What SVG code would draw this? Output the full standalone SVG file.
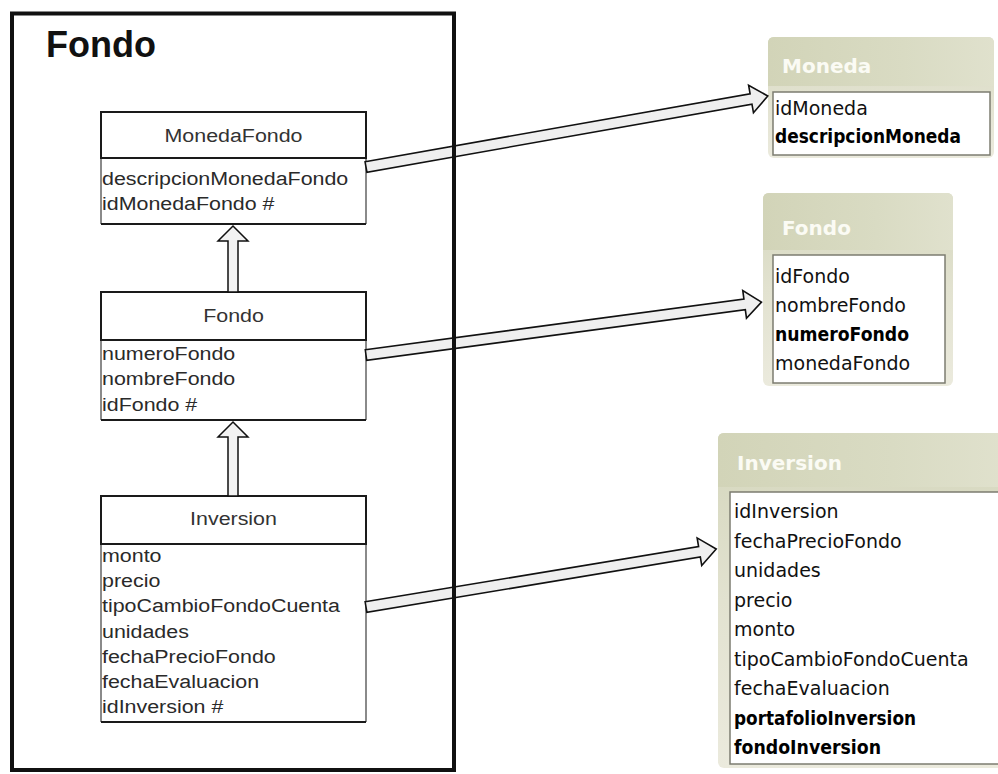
<svg xmlns="http://www.w3.org/2000/svg" width="998" height="774" viewBox="0 0 998 774">
  <defs>
    <style>
      .pkg { fill: none; stroke: #111; stroke-width: 4; }
      .pkg-title { font-family: "Liberation Sans", Arial, sans-serif; font-weight: bold; font-size: 36px; fill: #111; }
      .cls-head { fill: #fff; stroke: #1a1a1a; stroke-width: 2; }
      .cls-body { fill: #fff; stroke: none; }
      .cls-side { stroke: #8a8a8a; stroke-width: 2; fill: none; }
      .cls-bottom { stroke: #1a1a1a; stroke-width: 2; fill: none; }
      .cls-name { font-family: "Liberation Sans", Arial, sans-serif; font-size: 18px; fill: #333; text-anchor: middle; }
      .cls-attr { font-family: "Liberation Sans", Arial, sans-serif; font-size: 18px; fill: #2a2a2a; }
      .inherit { fill: #f2f2f2; stroke: #111; stroke-width: 1.5; stroke-linejoin: miter; }
      .map { fill: #efefef; stroke: #111; stroke-width: 1.6; stroke-linejoin: miter; }
      .tbl-frame { fill: url(#frameGrad); }
      .tbl-head { fill: url(#headGrad); }
      .tbl-list { fill: #fff; stroke: #7c7c70; stroke-width: 1.5; }
      .tbl-title { font-family: "DejaVu Sans", Verdana, sans-serif; font-weight: bold; font-size: 20px; fill: #fbfbf4; }
      .tbl-item { font-family: "DejaVu Sans", Verdana, sans-serif; font-size: 19px; fill: #111; }
      .tbl-key { font-family: "DejaVu Sans", Verdana, sans-serif; font-weight: bold; font-size: 19px; fill: #000; }
    </style>
    <linearGradient id="frameGrad" x1="0" y1="0" x2="0" y2="1">
      <stop offset="0" stop-color="#d4d6bc"/>
      <stop offset="0.5" stop-color="#e2e2d0"/>
      <stop offset="1" stop-color="#ebeadd"/>
    </linearGradient>
    <linearGradient id="headGrad" x1="0" y1="0" x2="1" y2="0">
      <stop offset="0" stop-color="#d2d4b8"/>
      <stop offset="0.6" stop-color="#d9dbc3"/>
      <stop offset="1" stop-color="#e0e1cd"/>
    </linearGradient>
  </defs>

  <rect x="0" y="0" width="998" height="774" fill="#fff"/>

  <!-- class: MonedaFondo -->
  <g id="cls-monedafondo">
    <rect class="cls-body" x="101" y="158" width="265" height="66"/>
    <path class="cls-side" d="M101 158 V224 M366 158 V224"/>
    <path class="cls-bottom" d="M101 224 H366"/>
    <rect class="cls-head" x="101" y="112" width="265" height="46"/>
    <g transform="translate(233.5,0) scale(1.19,1)">
      <text class="cls-name" x="0" y="142">MonedaFondo</text>
    </g>
    <g transform="translate(102,0) scale(1.19,1)">
      <text class="cls-attr" x="0" y="185">descripcionMonedaFondo</text>
      <text class="cls-attr" x="0" y="210">idMonedaFondo #</text>
    </g>
  </g>

  <!-- class: Fondo -->
  <g id="cls-fondo">
    <rect class="cls-body" x="101" y="340" width="265" height="80"/>
    <path class="cls-side" d="M101 340 V420 M366 340 V420"/>
    <path class="cls-bottom" d="M101 420 H366"/>
    <rect class="cls-head" x="101" y="292" width="265" height="48"/>
    <g transform="translate(233.5,0) scale(1.19,1)">
      <text class="cls-name" x="0" y="322">Fondo</text>
    </g>
    <g transform="translate(102,0) scale(1.19,1)">
      <text class="cls-attr" x="0" y="360">numeroFondo</text>
      <text class="cls-attr" x="0" y="385">nombreFondo</text>
      <text class="cls-attr" x="0" y="411">idFondo #</text>
    </g>
  </g>

  <!-- class: Inversion -->
  <g id="cls-inversion">
    <rect class="cls-body" x="101" y="544" width="265" height="178"/>
    <path class="cls-side" d="M101 544 V722 M366 544 V722"/>
    <path class="cls-bottom" d="M101 722 H366"/>
    <rect class="cls-head" x="101" y="496" width="265" height="48"/>
    <g transform="translate(233.5,0) scale(1.19,1)">
      <text class="cls-name" x="0" y="525">Inversion</text>
    </g>
    <g transform="translate(102,0) scale(1.19,1)">
      <text class="cls-attr" x="0" y="562">monto</text>
      <text class="cls-attr" x="0" y="587">precio</text>
      <text class="cls-attr" x="0" y="612">tipoCambioFondoCuenta</text>
      <text class="cls-attr" x="0" y="638">unidades</text>
      <text class="cls-attr" x="0" y="663">fechaPrecioFondo</text>
      <text class="cls-attr" x="0" y="688">fechaEvaluacion</text>
      <text class="cls-attr" x="0" y="713">idInversion #</text>
    </g>
  </g>

  <!-- table: Moneda -->
  <g id="tbl-moneda">
    <rect class="tbl-frame" x="768" y="37" width="226" height="121" rx="6"/>
    <path class="tbl-head" d="M768 86 V43 Q768 37 774 37 H988 Q994 37 994 43 V86 Z"/>
    <text class="tbl-title" x="782" y="73">Moneda</text>
    <rect class="tbl-list" x="773" y="92" width="217" height="63"/>
    <text class="tbl-item" x="775" y="115">idMoneda</text>
    <text class="tbl-key" x="775" y="143" textLength="186" lengthAdjust="spacingAndGlyphs">descripcionMoneda</text>
  </g>

  <!-- table: Fondo -->
  <g id="tbl-fondo">
    <rect class="tbl-frame" x="763" y="193" width="190" height="193" rx="6"/>
    <path class="tbl-head" d="M763 250 V199 Q763 193 769 193 H947 Q953 193 953 199 V250 Z"/>
    <text class="tbl-title" x="782" y="235">Fondo</text>
    <rect class="tbl-list" x="773" y="255" width="172" height="128"/>
    <text class="tbl-item" x="775" y="283">idFondo</text>
    <text class="tbl-item" x="775" y="312">nombreFondo</text>
    <text class="tbl-key" x="775" y="341" textLength="134" lengthAdjust="spacingAndGlyphs">numeroFondo</text>
    <text class="tbl-item" x="775" y="370">monedaFondo</text>
  </g>

  <!-- table: Inversion -->
  <g id="tbl-inversion">
    <rect class="tbl-frame" x="718" y="433" width="290" height="335" rx="6"/>
    <path class="tbl-head" d="M718 487 V439 Q718 433 724 433 H1008 V487 Z"/>
    <text class="tbl-title" x="737" y="470">Inversion</text>
    <rect class="tbl-list" x="730" y="492" width="280" height="272"/>
    <text class="tbl-item" x="734" y="518">idInversion</text>
    <text class="tbl-item" x="734" y="547.5">fechaPrecioFondo</text>
    <text class="tbl-item" x="734" y="577">unidades</text>
    <text class="tbl-item" x="734" y="606.5">precio</text>
    <text class="tbl-item" x="734" y="636">monto</text>
    <text class="tbl-item" x="734" y="665.5">tipoCambioFondoCuenta</text>
    <text class="tbl-item" x="734" y="695">fechaEvaluacion</text>
    <text class="tbl-key" x="734" y="724.5" textLength="182" lengthAdjust="spacingAndGlyphs">portafolioInversion</text>
    <text class="tbl-key" x="734" y="754" textLength="147" lengthAdjust="spacingAndGlyphs">fondoInversion</text>
  </g>

  <!-- connectors: inheritance and class-to-table mappings -->
  <g id="connectors">
    <polygon class="inherit" points="228,292 228,241 218,241 233,226 248,241 238,241 238,292"/>
    <polygon class="inherit" points="228,496 228,437 218,437 233,422 248,437 238,437 238,496"/>
    <!-- block arrows drawn along +x, then rotated into place -->
    <polygon class="map" transform="translate(366,167) rotate(-10.02)" points="0,-5.3 391,-5.3 391,-14 408,0 391,14 391,5.3 0,5.3"/>
    <polygon class="map" transform="translate(366,355) rotate(-7.62)" points="0,-5.3 382,-5.3 382,-14 399,0 382,14 382,5.3 0,5.3"/>
    <polygon class="map" transform="translate(366,607) rotate(-9.41)" points="0,-5.3 338,-5.3 338,-14 355,0 338,14 338,5.3 0,5.3"/>
  </g>

  <!-- package frame, drawn over the connectors -->
  <g id="pkg-fondo">
    <rect class="pkg" x="12" y="13.5" width="442" height="756.5"/>
    <text class="pkg-title" x="46" y="57">Fondo</text>
  </g>
</svg>
